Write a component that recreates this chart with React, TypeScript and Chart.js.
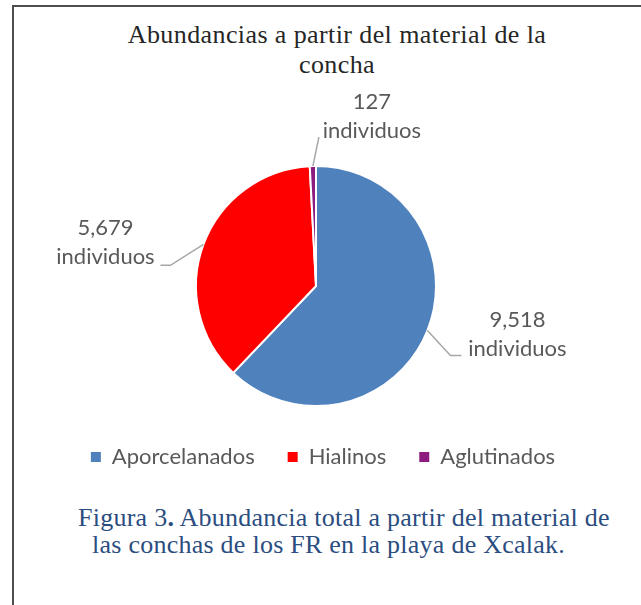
import React, { useEffect, useRef } from "react";
import { Chart, registerables } from "chart.js";

Chart.register(...registerables);

// ---- data ----
const categories = ["Aporcelanados", "Hialinos", "Aglutinados"];
const values = [9518, 5679, 127];
const valueLabels = ["9,518", "5,679", "127"];
const unitLabel = "individuos";
const colors = ["#4F81BD", "#FF0000", "#8E1B7F"];
const titleLines = ["Abundancias a partir del material de la", "concha"];
const captionLead = "Figura 3";
const captionLine1 = " Abundancia total a partir del material de";
const captionLine2 = "las conchas de los FR en la playa de Xcalak.";

// ---- label layout (offsets from each slice's outer edge at its mid-angle) ----
const labelLayout = [
  { elbow: [23, 25], tail: 11, text: [90, -4] },
  { elbow: [-33, 21], tail: -10, text: [-98, -9] },
  { elbow: [6, -29], tail: 0, text: [59, -57] },
];
const LABEL_FONT = "22px Lato";
const LINE_GAP = 29;

const labelPlugin = {
  id: "pieLabels",
  afterDatasetsDraw(chart: any) {
    const ctx = chart.ctx;
    const meta = chart.getDatasetMeta(0);
    meta.data.forEach((arc: any, i: number) => {
      const p = arc.getProps(["x", "y", "startAngle", "endAngle", "outerRadius"], true);
      const mid = (p.startAngle + p.endAngle) / 2;
      const ex = p.x + Math.cos(mid) * p.outerRadius;
      const ey = p.y + Math.sin(mid) * p.outerRadius;
      const L = labelLayout[i];
      ctx.save();
      ctx.strokeStyle = "#A6A6A6";
      ctx.lineWidth = 1.5;
      ctx.beginPath();
      ctx.moveTo(ex, ey);
      ctx.lineTo(ex + L.elbow[0], ey + L.elbow[1]);
      ctx.lineTo(ex + L.elbow[0] + L.tail, ey + L.elbow[1]);
      ctx.stroke();
      ctx.fillStyle = "#595959";
      ctx.font = LABEL_FONT;
      ctx.textAlign = "center";
      ctx.textBaseline = "alphabetic";
      ctx.fillText(valueLabels[i], ex + L.text[0], ey + L.text[1]);
      ctx.fillText(unitLabel, ex + L.text[0], ey + L.text[1] + LINE_GAP);
      ctx.restore();
    });
  },
};

const legendShift = {
  id: "legendShift",
  afterLayout(chart: any) {
    if (chart.legend) {
      chart.legend.left += 7;
      chart.legend.right += 7;
    }
  },
};

export default function App() {
  const ref = useRef<HTMLCanvasElement | null>(null);

  useEffect(() => {
    let chart: Chart | null = null;
    let cancelled = false;
    const make = () => {
      if (cancelled || !ref.current) return;
      chart = new Chart(ref.current, {
        type: "pie",
        data: {
          labels: categories,
          datasets: [
            {
              data: values,
              backgroundColor: colors,
              borderColor: "#FFFFFF",
              borderWidth: 2,
              radius: 120,
            } as any,
          ],
        },
        options: {
          responsive: false,
          animation: false,
          layout: { padding: { top: 73, bottom: 0, left: 0, right: 0 } },
          plugins: {
            title: { display: false },
            tooltip: { enabled: false },
            legend: {
              position: "bottom",
              labels: {
                boxWidth: 10,
                boxHeight: 10,
                padding: 33,
                color: "#595959",
                font: { family: "Lato", size: 22 },
                generateLabels: () =>
                  categories.map((t, i) => ({
                    text: t,
                    fillStyle: colors[i],
                    strokeStyle: colors[i],
                    lineWidth: 0,
                    hidden: false,
                    index: i,
                    fontColor: "#595959",
                  })),
              },
            },
          },
        } as any,
        plugins: [labelPlugin, legendShift],
      });
    };
    const fontsApi = (document as any).fonts;
    if (fontsApi && fontsApi.load) {
      fontsApi.load(LABEL_FONT).then(make, make);
    } else {
      make();
    }
    return () => {
      cancelled = true;
      if (chart) chart.destroy();
    };
  }, []);

  return (
    <div
      style={{
        position: "absolute",
        left: 0,
        top: 0,
        width: 641,
        height: 605,
        overflow: "hidden",
        background: "#FFFFFF",
      }}
    >
      <div
        style={{
          position: "absolute",
          left: 12,
          top: 5,
          width: 700,
          height: 700,
          borderLeft: "2px solid #4D4D4D",
          borderTop: "2px solid #4D4D4D",
        }}
      />
      <div
        style={{
          position: "absolute",
          left: 14,
          top: 20,
          width: 646,
          textAlign: "center",
          fontFamily: "'Liberation Serif', 'Times New Roman', serif",
          fontSize: 26,
          letterSpacing: "0.4px",
          lineHeight: "30px",
          color: "#262626",
        }}
      >
        {titleLines.map((t, i) => (
          <div key={i}>{t}</div>
        ))}
      </div>
      <canvas
        ref={ref}
        width={604}
        height={392}
        style={{ position: "absolute", left: 14, top: 86, width: 604, height: 392 }}
      />
      <div
        style={{
          position: "absolute",
          left: 0,
          top: 504,
          width: 700,
          fontFamily: "'Liberation Serif', 'Times New Roman', serif",
          fontSize: 26,
          letterSpacing: "0.25px",
          lineHeight: "27px",
          color: "#2B4D80",
          whiteSpace: "nowrap",
        }}
      >
        <div style={{ paddingLeft: 78 }}>
          {captionLead}
          <b>.</b>
          {captionLine1}
        </div>
        <div style={{ paddingLeft: 92 }}>{captionLine2}</div>
      </div>
    </div>
  );
}
